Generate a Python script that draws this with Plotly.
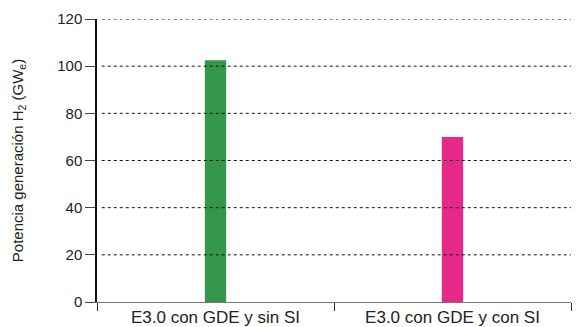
import plotly.graph_objects as go

categories = ["E3.0 con GDE y sin SI", "E3.0 con GDE y con SI"]
values = [102.5, 70.0]
colors = ["#34964a", "#e5288a"]
y_ticks = [0, 20, 40, 60, 80, 100, 120]

fig = go.Figure()
fig.add_trace(go.Bar(x=categories, y=values, marker=dict(color=colors, line=dict(width=0)), width=0.09))

for t in y_ticks[1:]:
    fig.add_shape(type="line", xref="paper", yref="y", x0=0.01, x1=1, y0=t, y1=t,
                  line=dict(color="#111111", width=1, dash="dot"), layer="above")

font = "Liberation Sans, Arial, sans-serif"
fig.update_layout(
    width=581, height=327,
    margin=dict(l=97, r=10, t=19, b=25),
    plot_bgcolor="white", paper_bgcolor="white",
    showlegend=False,
    font=dict(family=font, size=14, color="#222222"),
    xaxis=dict(type="category", showline=True, linecolor="#777777", linewidth=1,
               ticks="outside", tickson="boundaries", ticklen=8, tickcolor="#333333",
               showgrid=False, tickfont=dict(size=17), zeroline=False, ticklabelstandoff=0,
               automargin=False),
    yaxis=dict(range=[0, 120], tickvals=y_ticks, showline=True, linecolor="#111111", linewidth=1.5,
               ticks="outside", ticklen=10, tickcolor="#444444", showgrid=False, zeroline=False,
               tickfont=dict(size=15), automargin=False,
               title=dict(text="Potencia generación H<sub>2</sub> (GW<sub>e</sub>)", font=dict(size=15), standoff=30)),
)
fig.write_html("out.html", post_script="document.body.style.margin='0';",
               config={"displayModeBar": False})
